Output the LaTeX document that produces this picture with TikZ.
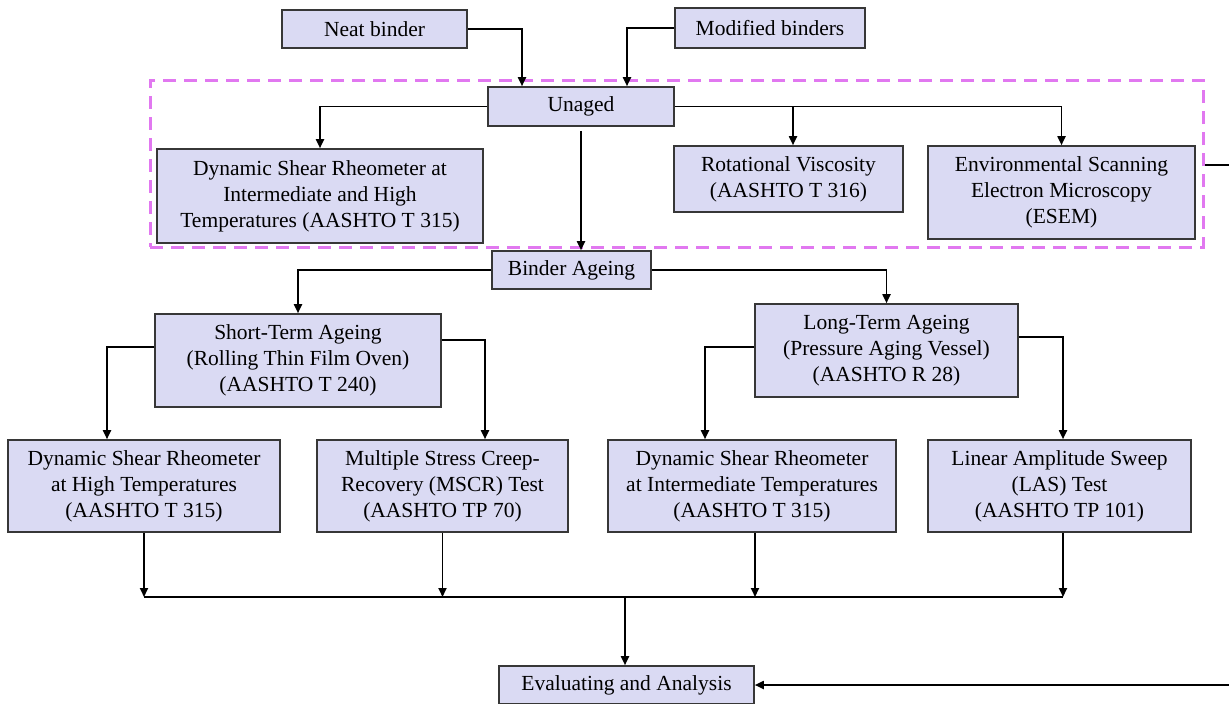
\documentclass[tikz,border=0pt]{standalone}
\usepackage{fontspec}
\setmainfont{Liberation Serif}
\newfontfamily\tnr{Liberation Serif}
\usetikzlibrary{arrows.meta}
\definecolor{boxfill}{RGB}{218,218,243}
\definecolor{boxline}{RGB}{55,55,55}
\definecolor{dashcol}{RGB}{225,120,240}
\tikzset{
  box/.style={draw=boxline, fill=boxfill, line width=1.6pt, align=center, inner sep=1pt,
    font=\tnr\fontsize{21.5}{26}\selectfont},
  arr/.style={line width=1.8pt, -{Triangle[length=9pt,width=8pt]}},
  grpbox/.style={draw=dashcol, line width=3pt, dash pattern=on 13pt off 8pt}
}
\begin{document}
\begin{tikzpicture}[x=1pt,y=-1pt]
\useasboundingbox (0,0) rectangle (1229,704);
% group
\node[grpbox, minimum width=1053pt, minimum height=167pt] (grp) at (676.5,163.5) {};
% nodes
\node[box, minimum width=185pt, minimum height=38pt] (neat) at (374.5,29) {Neat binder};
\node[box, minimum width=190pt, minimum height=40pt] (mod) at (770,28) {Modified binders};
\node[box, minimum width=186pt, minimum height=39pt] (unaged) at (581,106.5) {Unaged};
\node[box, minimum width=326pt, minimum height=94pt] (dsra) at (320,196) {Dynamic Shear Rheometer at\\Intermediate and High\\Temperatures (AASHTO T 315)};
\node[box, minimum width=229pt, minimum height=66pt] (rv) at (788.5,179) {Rotational Viscosity\\(AASHTO T 316)};
\node[box, minimum width=267pt, minimum height=93pt] (esem) at (1061.5,192.5) {Environmental Scanning\\Electron Microscopy\\(ESEM)};
\node[box, minimum width=159pt, minimum height=38pt] (ageing) at (571.5,270) {Binder Ageing};
\node[box, minimum width=286pt, minimum height=93pt] (short) at (298,360.5) {Short-Term Ageing\\(Rolling Thin Film Oven)\\(AASHTO T 240)};
\node[box, minimum width=263pt, minimum height=93pt] (long) at (886.5,350.5) {Long-Term Ageing\\(Pressure Aging Vessel)\\(AASHTO R 28)};
\node[box, minimum width=272pt, minimum height=92pt] (b1) at (144,486) {Dynamic Shear Rheometer\\at High Temperatures\\(AASHTO T 315)};
\node[box, minimum width=251pt, minimum height=92pt] (b2) at (442.5,486) {Multiple Stress Creep-\\Recovery (MSCR) Test\\(AASHTO TP 70)};
\node[box, minimum width=288pt, minimum height=92pt] (b3) at (752,486) {Dynamic Shear Rheometer\\at Intermediate Temperatures\\(AASHTO T 315)};
\node[box, minimum width=263pt, minimum height=92pt] (b4) at (1059.5,486) {Linear Amplitude Sweep\\(LAS) Test\\(AASHTO TP 101)};
\node[box, minimum width=255pt, minimum height=38pt] (eval) at (626.5,685) {Evaluating and Analysis};
% helper coordinates
\coordinate (uin1) at ([xshift=-59pt]unaged.north);
\coordinate (uin2) at ([xshift=46pt]unaged.north);
\coordinate (rvin) at ([xshift=4.5pt]rv.north);
\coordinate (sL) at ([yshift=13.5pt]short.west);
\coordinate (sR) at ([yshift=20.5pt]short.east);
\coordinate (lL) at ([yshift=3.5pt]long.west);
\coordinate (lR) at ([yshift=13.5pt]long.east);
\coordinate (b1in) at ([xshift=-37pt]b1.north);
\coordinate (b2in) at ([xshift=42.5pt]b2.north);
\coordinate (b3in) at ([xshift=-47pt]b3.north);
\coordinate (b4in) at ([xshift=3.5pt]b4.north);
\coordinate (bus) at (625,597);
\coordinate (fb) at (1234,165);
% connectors
\draw[arr] (neat.east) -| (uin1);
\draw[arr] (mod.west) -| (uin2);
\draw[arr] (unaged.west) -| (dsra.north);
\draw[arr] (unaged.east) -| (esem.north);
\draw[arr] (rvin |- unaged.east) -- (rvin);
\draw[arr] ([yshift=-4pt]unaged.south) -- (unaged.south |- ageing.north);
\draw[arr] (ageing.west) -| (short.north);
\draw[arr] (ageing.east) -| (long.north);
\draw[arr] (sL) -| (b1in);
\draw[arr] (sR) -| (b2in);
\draw[arr] (lL) -| (b3in);
\draw[arr] (lR) -| (b4in);
\draw[arr] (b1.south) -- (b1.south |- bus);
\draw[arr] (b2.south) -- (b2.south |- bus);
\draw[arr] ([xshift=3pt]b3.south) -- ([xshift=3pt]b3.south |- bus);
\draw[arr] ([xshift=3.5pt]b4.south) -- ([xshift=3.5pt]b4.south |- bus);
\draw[line width=2.4pt] (b1.south |- bus) -- ([xshift=3.5pt]b4.south |- bus);
\draw[arr] (bus) -- (bus |- eval.north);
\draw[arr] (grp.east |- fb) -- (fb) |- (eval.east);
\end{tikzpicture}
\end{document}
